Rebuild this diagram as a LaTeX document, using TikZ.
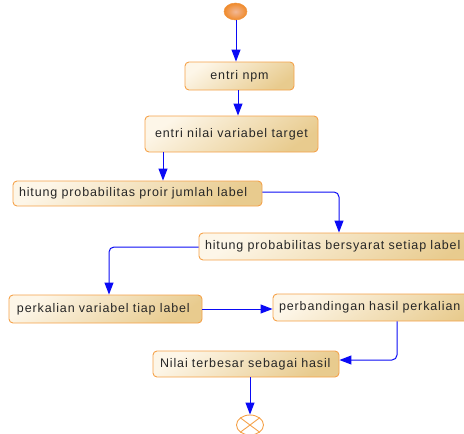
\documentclass[tikz,border=0pt]{standalone}
\usepackage{fontspec}
\setmainfont{Liberation Sans}
\newfontfamily\boxfont[LetterSpace=7]{Liberation Sans}
\usetikzlibrary{arrows.meta,shapes.geometric}
\definecolor{boxtop}{HTML}{FDF6E8}
\definecolor{boxbot}{HTML}{E8CB8E}
\definecolor{boxline}{HTML}{F5A24A}
\definecolor{flow}{HTML}{0A0AF5}
\definecolor{startc}{HTML}{F08A2A}
\definecolor{startin}{HTML}{F2B896}
\tikzset{
  actbox/.style={draw=boxline, line width=0.9pt, rounded corners=4pt,
    top color=boxtop, bottom color=boxbot, shading angle=35,
    inner sep=0pt, font=\boxfont\fontsize{12.5}{14}\selectfont, text=black!85},
  flowline/.style={draw=flow, line width=1pt, rounded corners=5pt,
    -{Triangle[length=12pt,width=9pt]}},
}
\begin{document}
\begin{tikzpicture}[x=1pt,y=-1pt]
\useasboundingbox (0,0) rectangle (464,434);
\clip (0,0) rectangle (464,434);
% start
\node[ellipse, minimum width=23pt, minimum height=17pt, inner sep=0pt,
  draw=startc!90, line width=0.5pt, inner color=startin, outer color=startc] (start) at (235.5,11.5) {};
% boxes
\node[actbox, minimum width=109pt, minimum height=28pt] (npm) at (239.5,76) {entri npm};
\node[actbox, minimum width=173pt, minimum height=36pt] (target) at (231.5,134) {entri nilai variabel target};
\node[actbox, minimum width=249pt, minimum height=25pt, text width=249pt, align=left] (proir) at (137.5,193.5) {\hspace*{6pt}hitung probabilitas proir jumlah label};
\node[actbox, minimum width=290pt, minimum height=27pt, text width=290pt, align=left] (syarat) at (344,246.5) {\hspace*{6pt}hitung probabilitas bersyarat setiap label};
\node[actbox, minimum width=193pt, minimum height=28pt, text width=193pt, align=left] (kali) at (105.5,309) {\hspace*{8pt}perkalian variabel tiap label};
\node[actbox, minimum width=220pt, minimum height=27pt, text width=220pt, align=left] (banding) at (383,307.5) {\raisebox{2pt}{\hspace*{6pt}perbandingan hasil perkalian}};
\node[actbox, minimum width=186pt, minimum height=26pt, text width=186pt, align=left] (nilai) at (246,364) {\hspace*{7pt}Nilai terbesar sebagai hasil};
% end
\node[ellipse, draw=boxline, line width=0.9pt, minimum width=27pt, minimum height=20pt, inner sep=0pt, fill=white] (end) at (250,425) {};
\draw[boxline, line width=0.9pt] (end.north east) -- (end.south west) (end.north west) -- (end.south east);
% connectors
\draw[flowline] (start.south -| 236,0) -- (npm.north -| 236,0);
\draw[flowline] (npm.south -| 238,0) -- (target.north -| 238,0);
\draw[flowline] (target.south -| 163,0) -- (proir.north -| 163,0);
\draw[flowline] (proir.east |- 0,192) -| (syarat.north -| 339,0);
\draw[flowline] (syarat.west |- 0,247) -| (kali.north -| 109,0);
\draw[flowline] (kali.east |- 0,309) -- (banding.west |- 0,309);
\draw[flowline] (banding.south -| 397,0) |- (nilai.east |- 0,360);
\draw[flowline] (nilai.south -| 250,0) -- (end.north);
\end{tikzpicture}
\end{document}
